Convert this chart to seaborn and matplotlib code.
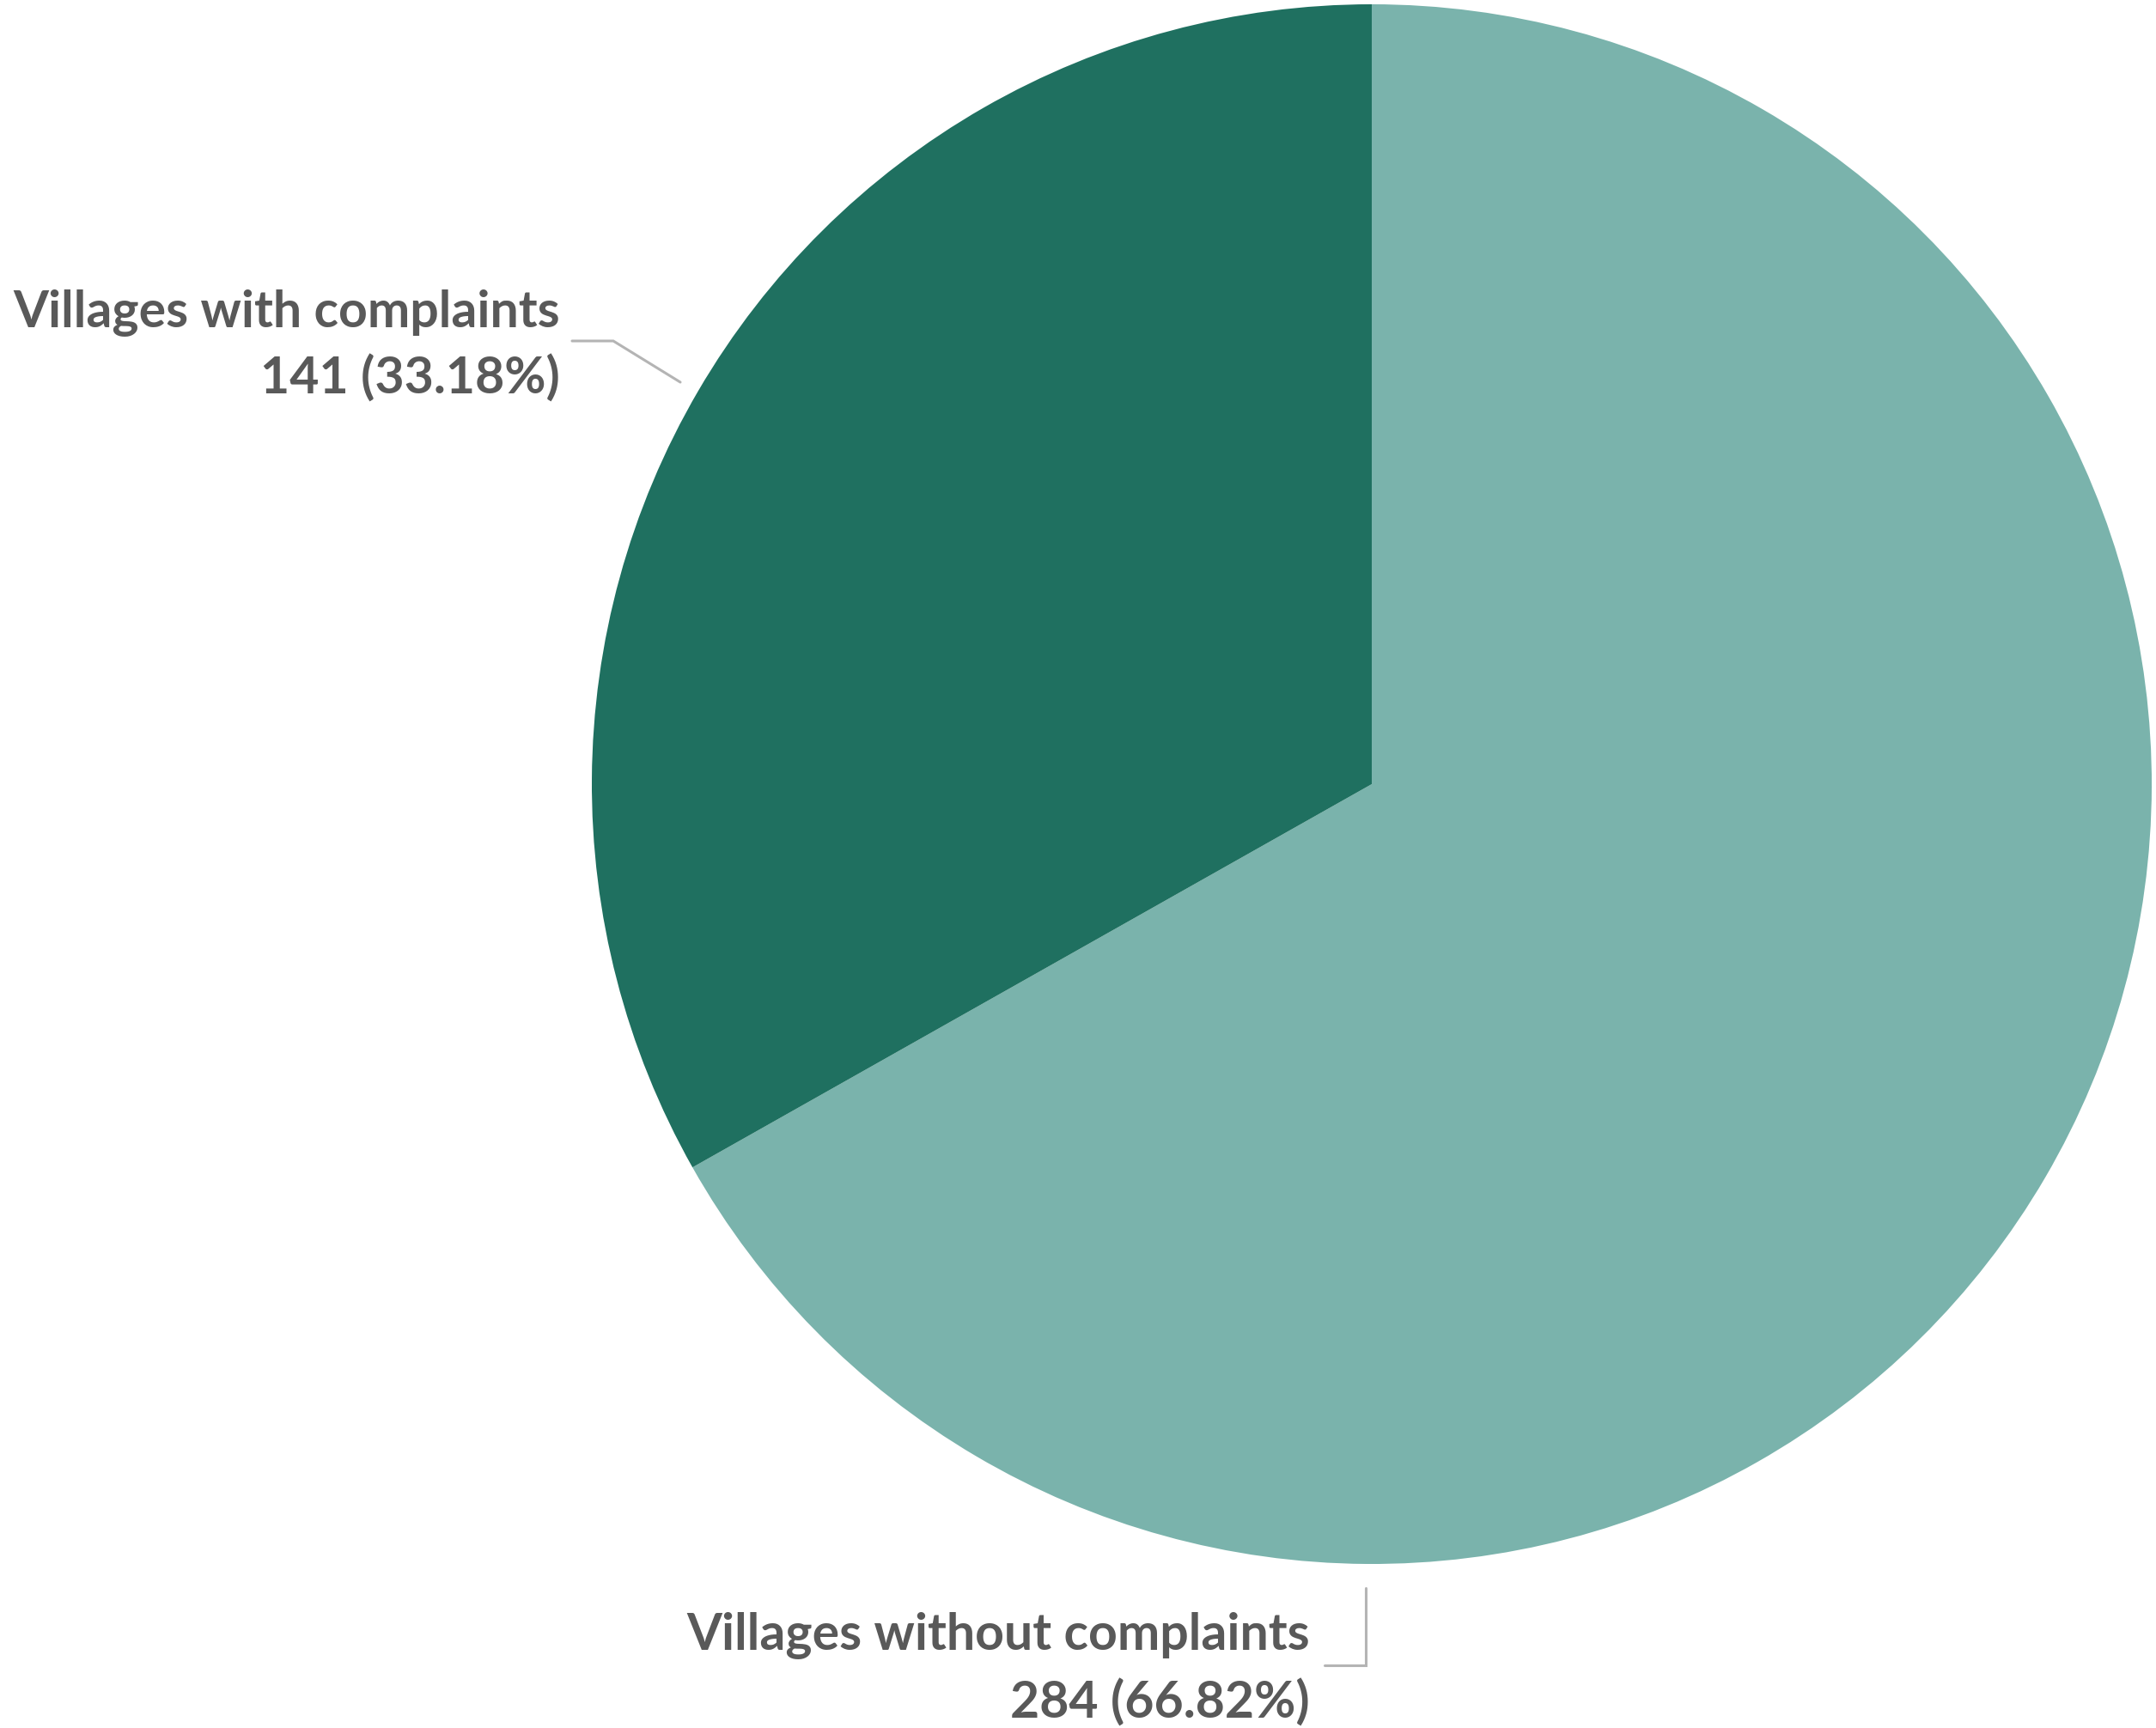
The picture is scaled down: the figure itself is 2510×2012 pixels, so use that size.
import matplotlib
matplotlib.use("Agg")
import matplotlib.pyplot as plt
import seaborn as sns

categories = ["Villages without complaints", "Villages with complaints"]
counts = [284, 141]
colors = ["#7AB3AC", "#1F7060"]

sns.set_theme(style="white")
plt.rcParams['font.family'] = ['Lato', 'DejaVu Sans']

W, H = 2510, 2012
fig = plt.figure(figsize=(W / 100, H / 100), dpi=100)
cx, cy, R = 1597, 913, 908
ax = fig.add_axes([(cx - R) / W, (H - cy - R) / H, 2 * R / W, 2 * R / H])
ax.pie(counts, colors=colors, startangle=90, counterclock=False, radius=1,
       wedgeprops=dict(linewidth=0))
ax.set_xlim(-1, 1)
ax.set_ylim(-1, 1)
ax.set_aspect('equal')
ax.axis('off')

def d(px, py):
    return (px - cx) / R, (cy - py) / R

total = sum(counts)
txtc = "#595959"
fs = 42.5

lab_pos = {
    1: dict(x=652, y1=381, y2=459, lead=[(666, 397), (714, 397), (792, 445)]),
    0: dict(x=1525, y1=1921, y2=2001, lead=[(1590, 1849), (1590, 1939), (1542, 1939)]),
}
for i, (cat, n) in enumerate(zip(categories, counts)):
    p = lab_pos[i]
    pct = n / total * 100
    x, y = d(p['x'], p['y1'])
    ax.text(x, y, cat, ha='right', va='baseline', fontsize=fs, fontweight='bold',
            color=txtc, clip_on=False)
    x, y = d(p['x'], p['y2'])
    ax.text(x, y, f"{n} ({pct:.2f}%)", ha='right', va='baseline', fontsize=fs,
            fontweight='bold', color=txtc, clip_on=False)
    pts = [d(a, b) for a, b in p['lead']]
    ax.plot([q[0] for q in pts], [q[1] for q in pts], color="#B4B4B4", lw=2.2,
            clip_on=False, solid_joinstyle='miter')

fig.savefig("out.png", dpi=100, facecolor="white")
